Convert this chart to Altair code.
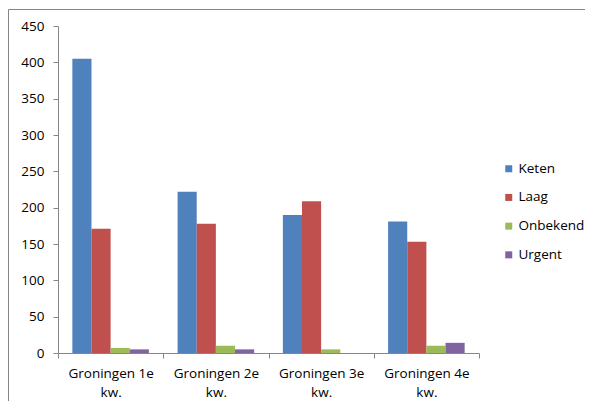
import altair as alt
import pandas as pd

quarters = ["Groningen 1e kw.", "Groningen 2e kw.", "Groningen 3e kw.", "Groningen 4e kw."]
series = ["Keten", "Laag", "Onbekend", "Urgent"]
keten = [405, 222, 190, 181]
laag = [171, 178, 209, 153]
onbekend = [7, 10, 5, 10]
urgent = [5, 5, 0, 14]
colors = ["#4F81BD", "#C0504D", "#9BBB59", "#8064A2"]

rows = []
for s, vals in zip(series, [keten, laag, onbekend, urgent]):
    for q, v in zip(quarters, vals):
        rows.append({"kwartaal": q, "serie": s, "waarde": v})
df = pd.DataFrame(rows)

W, H = 421, 327
FONT = "Open Sans"
FS = 13.5

bars = alt.Chart(df).mark_bar(stroke=None).encode(
    x=alt.X("kwartaal:N", sort=quarters, title=None,
            scale=alt.Scale(paddingInner=0, paddingOuter=0),
            axis=alt.Axis(labelAngle=0, tickBand="extent", tickSize=5,
                          labelPadding=8, labelLineHeight=19.5,
                          labelExpr="datum.label ? [replace(datum.label, ' kw.', ''), 'kw.'] : ''")),
    xOffset=alt.XOffset("serie:N", sort=series,
                        scale=alt.Scale(paddingInner=0, paddingOuter=0.75)),
    y=alt.Y("waarde:Q", title=None,
            scale=alt.Scale(domain=[0, 450], nice=False),
            axis=alt.Axis(values=list(range(0, 451, 50)), tickSize=5,
                          labelPadding=9, grid=False)),
    color=alt.Color("serie:N", sort=series,
                    scale=alt.Scale(domain=series, range=colors),
                    legend=alt.Legend(title=None, orient="none", legendX=444,
                                      legendY=136, symbolType="square",
                                      symbolSize=49, symbolStrokeWidth=0,
                                      rowPadding=13.7, labelFontSize=FS,
                                      labelOffset=3, labelColor="#000000",
                                      labelFont=FONT, padding=0)),
)

frame_src = pd.DataFrame({"k": [0]})
top_line = alt.Chart(frame_src).mark_rule(color="#868686", strokeWidth=1).encode(
    x=alt.value(-49.5), x2=alt.value(600), y=alt.value(-16.5))
left_line = alt.Chart(frame_src).mark_rule(color="#868686", strokeWidth=1).encode(
    x=alt.value(-49.5), y=alt.value(-16.5), y2=alt.value(500))

chart = alt.layer(top_line, left_line, bars).properties(
    width=W, height=H,
    autosize=alt.AutoSizeParams(type="none"),
    padding={"left": 50, "top": 18, "right": 106, "bottom": 48},
).configure_view(stroke=None).configure_axis(
    domainColor="#868686", tickColor="#868686", labelFont=FONT,
    labelFontSize=FS, labelColor="#000000"
)

chart.save("out.html", embed_options={"renderer": "svg", "actions": False})
